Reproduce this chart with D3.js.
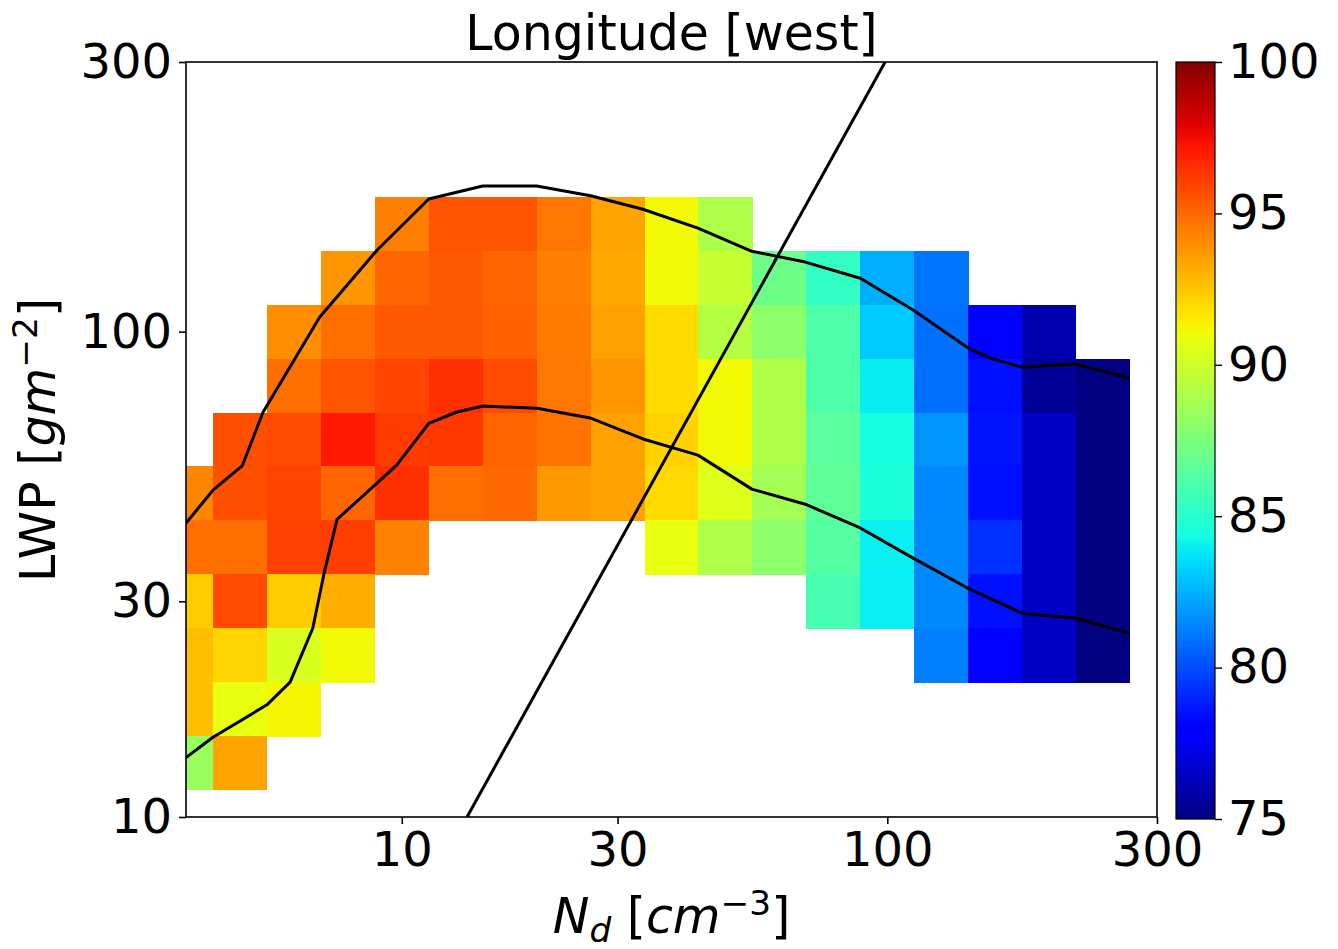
<!DOCTYPE html>
<html><head><meta charset="utf-8">
<script src="https://cdn.jsdelivr.net/npm/d3@7"></script>
<style>
body{margin:0;background:#fff;}
text{font-family:"DejaVu Sans", sans-serif;fill:#000;}
</style>
</head><body>
<svg id="chart" width="1338" height="949"></svg>
<script>
// ---------- data (positions on axes are in bin-index units) ----------
const xTickPos = [4, 8, 13, 18];
const xTickLabels = ["10", "30", "100", "300"];
const yTickPos = [0, 4, 9, 14];
const yTickLabels = ["10", "30", "100", "300"];
const cbTicks = [75, 80, 85, 90, 95, 100];

const ndBins = d3.range(18);              // Nd bin index (columns)
const lwpBins = [11,10,9,8,7,6,5,4,3,2,1];  // LWP bin index (rows, top to bottom)
const _ = null;
const row11 = [_,_,_,_,94.4,95.5,95.5,94.6,93.4,91.1,89.0,_,_,_,_,_,_,_];
const row10 = [_,_,_,93.8,95.05,95.4,95.1,94.35,93.3,91.1,89.8,87.1,85.3,82.4,81.0,_,_,_];
const row9  = [_,_,94.0,94.8,95.4,95.4,95.2,94.5,93.5,91.95,89.25,88.0,86.1,83.1,80.9,77.9,76.05,_];
const row8  = [_,_,94.8,95.5,95.95,96.5,95.8,94.6,93.8,91.95,91.1,89.0,86.1,83.95,80.9,78.5,75.55,75];
const row7  = [_,95.65,95.8,97.1,96.2,96.3,95.1,94.7,93.5,92.2,91.1,89.0,86.55,84.45,81.75,78.6,76.5,75];
const row6  = [94.2,95.65,95.95,95.05,96.5,94.8,94.95,93.7,93.5,92.0,90.5,88.7,86.6,84.6,81.46,78.5,76.5,75];
const row5  = [94.8,94.8,96.06,96.1,94.3,_,_,_,_,90.8,89.0,88.0,86.3,84.0,81.46,79.3,76.5,75];
const row4  = [92.35,95.8,92.35,93.15,_,_,_,_,_,_,_,_,85.9,84.0,81.46,78.5,76.5,75];
const row3  = [92.7,92.15,90.3,91.1,_,_,_,_,_,_,_,_,_,_,81.25,77.9,76.5,75];
const row2  = [92.7,90.8,91.2,_,_,_,_,_,_,_,_,_,_,_,_,_,_,_];
const row1  = [88.4,93.4,_,_,_,_,_,_,_,_,_,_,_,_,_,_,_,_];
const gridRows = [row11,row10,row9,row8,row7,row6,row5,row4,row3,row2,row1];

const upperCurve = [[0,5.45],[0.5,6.06],[1.04,6.51],[1.43,7.51],[2.48,9.27],[3.54,10.51],[4.5,11.46],
  [5.5,11.70],[6.5,11.70],[7.5,11.52],[8.47,11.27],[9.49,10.92],[10.49,10.49],[11.48,10.29],[12.5,9.99],
  [13.48,9.40],[14.48,8.71],[14.91,8.51],[15.5,8.34],[16.48,8.40],[17.48,8.14]];
const lowerCurve = [[0,1.1],[0.5,1.48],[1.5,2.08],[1.93,2.50],[2.35,3.50],[2.56,4.52],[2.80,5.52],
  [3.54,6.19],[3.91,6.53],[4.5,7.30],[5.02,7.51],[5.51,7.62],[6.51,7.58],[7.49,7.40],[8.47,7.01],
  [9.49,6.71],[10.49,6.08],[11.48,5.80],[12.5,5.36],[13.48,4.80],[14.48,4.25],[15.5,3.78],[16.48,3.69],[17.48,3.41]];
const diagLine = [[5.21,0],[12.96,14]];

// ---------- jet colormap ----------
const jr = d3.scaleLinear().domain([0,0.35,0.66,0.89,1]).range([0,0,1,1,0.5]).clamp(true);
const jg = d3.scaleLinear().domain([0,0.125,0.375,0.64,0.91,1]).range([0,0,1,1,0,0]).clamp(true);
const jb = d3.scaleLinear().domain([0,0.11,0.34,0.65,1]).range([0.5,1,1,0,0]).clamp(true);
const jet = t => d3.rgb(jr(t)*255, jg(t)*255, jb(t)*255).formatHex();
const norm = d3.scaleLinear().domain([75,100]).range([0,1]).clamp(true);
const color = v => jet(norm(v));

// ---------- layout ----------
const L = 186, R = 1157, T = 62, B = 817;
const svg = d3.select("#chart");
svg.append("rect").attr("width",1338).attr("height",949).attr("fill","#fff");
const x = d3.scaleLinear().domain([0,18]).range([L,R]);
const y = d3.scaleLinear().domain([0,14]).range([B,T]);

svg.append("clipPath").attr("id","clip").append("rect")
  .attr("x",L).attr("y",T).attr("width",R-L).attr("height",B-T);

const cells = [];
gridRows.forEach((row,ri)=>row.forEach((v,ci)=>{ if(v!==null) cells.push({c:ndBins[ci], r:lwpBins[ri], v}); }));
const g = svg.append("g").attr("clip-path","url(#clip)");
g.selectAll("rect.cell").data(cells).join("rect").attr("class","cell")
  .attr("x",d=>x(d.c-0.5)).attr("y",d=>y(d.r+0.5))
  .attr("width",d=>x(d.c+0.5)-x(d.c-0.5)+0.4).attr("height",d=>y(d.r-0.5)-y(d.r+0.5)+0.4)
  .attr("fill",d=>color(d.v)).attr("shape-rendering","crispEdges");

const line = d3.line().x(d=>x(d[0])).y(d=>y(d[1]));
[upperCurve, lowerCurve, diagLine].forEach(pts=>{
  g.append("path").attr("d",line(pts)).attr("fill","none").attr("stroke","#000")
   .attr("stroke-width",3).attr("stroke-linejoin","round");
});

// frame
svg.append("rect").attr("x",L).attr("y",T).attr("width",R-L).attr("height",B-T)
  .attr("fill","none").attr("stroke","#000").attr("stroke-width",1.6);

// axes
const fs = 48;
const xa = svg.append("g").attr("transform",`translate(0,${B})`)
  .call(d3.axisBottom(x).tickValues(xTickPos).tickFormat((d,i)=>xTickLabels[i]).tickSize(7).tickPadding(8));
const ya = svg.append("g").attr("transform",`translate(${L},0)`)
  .call(d3.axisLeft(y).tickValues(yTickPos).tickFormat((d,i)=>yTickLabels[i]).tickSize(7).tickPadding(7));
[xa,ya].forEach(a=>{
  a.select(".domain").remove();
  a.selectAll(".tick line").attr("stroke","#000").attr("stroke-width",1.6);
  a.selectAll("text").attr("font-size",fs).attr("font-family","DejaVu Sans").attr("fill","#000");
});

// title
svg.append("text").attr("x",(L+R)/2).attr("y",50).attr("text-anchor","middle")
  .attr("font-size",49).text("Longitude [west]");

// x label
const xfs = 49;
const xl = svg.append("text").attr("x",(L+R)/2).attr("y",933).attr("text-anchor","middle").attr("font-size",xfs);
xl.append("tspan").attr("font-style","italic").text("N");
xl.append("tspan").attr("font-style","italic").attr("font-size",xfs*0.7).attr("dy",9).text("d");
xl.append("tspan").attr("dy",-9).text(" [");
xl.append("tspan").attr("font-style","italic").text("cm");
xl.append("tspan").attr("font-size",xfs*0.7).attr("dy",-18).text("−3");
xl.append("tspan").attr("dy",18).text("]");

// y label
const yl = svg.append("text").attr("transform",`translate(55,440) rotate(-90)`).attr("text-anchor","middle").attr("font-size",xfs);
yl.append("tspan").text("LWP [");
yl.append("tspan").attr("font-style","italic").text("gm");
yl.append("tspan").attr("font-size",xfs*0.7).attr("dy",-18).text("−2");
yl.append("tspan").attr("dy",18).text("]");

// colorbar
const cbL = 1176, cbW = 39, cbT = 62, cbB = 819;
const cb = d3.scaleLinear().domain([75,100]).range([cbB,cbT]);
const grad = svg.append("defs").append("linearGradient").attr("id","jetgrad")
  .attr("x1",0).attr("y1",1).attr("x2",0).attr("y2",0);
d3.range(0,1.0001,1/64).forEach(t=>grad.append("stop").attr("offset",t).attr("stop-color",jet(t)));
svg.append("rect").attr("x",cbL).attr("y",cbT).attr("width",cbW).attr("height",cbB-cbT)
  .attr("fill","url(#jetgrad)").attr("stroke","#000").attr("stroke-width",1.2);
const ca = svg.append("g").attr("transform",`translate(${cbL+cbW},0)`)
  .call(d3.axisRight(cb).tickValues(cbTicks).tickSize(7).tickPadding(6));
ca.select(".domain").remove();
ca.selectAll(".tick line").attr("stroke","#000").attr("stroke-width",1.4);
ca.selectAll("text").attr("font-size",fs).attr("font-family","DejaVu Sans").attr("fill","#000");
</script>
</body></html>
